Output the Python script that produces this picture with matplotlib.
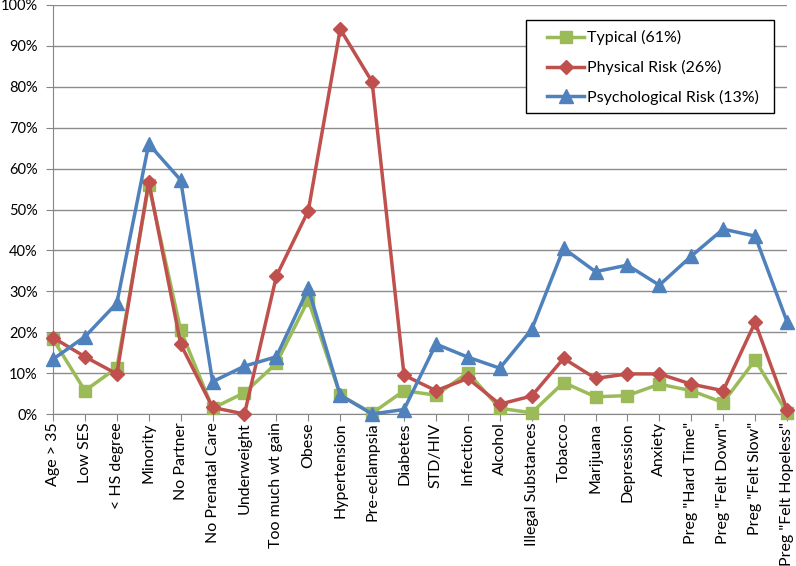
import matplotlib.pyplot as plt
from matplotlib.patches import Rectangle
from matplotlib.ticker import PercentFormatter

categories = ['Age > 35', 'Low SES', '< HS degree', 'Minority', 'No Partner',
              'No Prenatal Care', 'Underweight', 'Too much wt gain', 'Obese',
              'Hypertension', 'Pre-eclampsia', 'Diabetes', 'STD/HIV', 'Infection',
              'Alcohol', 'Illegal Substances', 'Tobacco', 'Marijuana', 'Depression',
              'Anxiety', 'Preg "Hard Time"', 'Preg "Felt Down"', 'Preg "Felt Slow"',
              'Preg "Felt Hopeless"']

# values in percent
typical = [18.3, 5.7, 11.3, 56.0, 20.5, 1.4, 5.2, 12.4, 27.9, 4.6, 0.2, 5.7,
           4.6, 10.1, 1.4, 0.3, 7.7, 4.2, 4.5, 7.3, 5.7, 2.8, 13.2, 0.3]
physical = [18.7, 14.0, 9.8, 56.8, 17.1, 1.6, 0.0, 33.7, 49.7, 94.1, 81.2, 9.5,
            5.7, 8.7, 2.4, 4.4, 13.6, 8.7, 9.8, 9.8, 7.3, 5.7, 22.4, 1.1]
psych = [13.4, 18.9, 27.1, 66.0, 57.2, 7.9, 11.7, 14.0, 30.7, 4.6, 0.0, 1.1,
         17.1, 13.9, 11.2, 20.7, 40.5, 34.8, 36.4, 31.5, 38.6, 45.2, 43.5, 22.6]

plt.rcParams['font.family'] = ['Lato', 'DejaVu Sans']

fig = plt.figure(figsize=(7.96, 5.66), dpi=100)
ax = fig.add_axes([53/796, 1 - 414/566, (787 - 53)/796, (414 - 5)/566])

x = range(len(categories))
ax.plot(x, typical, color='#9BBB59', lw=2.5, marker='s', ms=9,
        label='Typical (61%)', zorder=3, clip_on=False)
ax.plot(x, physical, color='#C0504D', lw=2.5, marker='D', ms=7,
        label='Physical Risk (26%)', zorder=4, clip_on=False)
ax.plot(x, psych, color='#4F81BD', lw=2.5, marker='^', ms=10,
        label='Psychological Risk (13%)', zorder=5, clip_on=False)

ax.set_xlim(0, len(categories) - 1)
ax.set_ylim(0, 100)
ax.set_yticks(range(0, 101, 10))
ax.yaxis.set_major_formatter(PercentFormatter(decimals=0))
ax.set_xticks(list(x))
ax.set_xticklabels(categories, rotation=90, va='top', ha='center')
ax.tick_params(axis='both', colors='#868686', labelcolor='black',
               length=5, direction='out')
ax.tick_params(axis='y', labelsize=10.5, pad=6)
ax.tick_params(axis='x', labelsize=11.5, pad=1)
ax.grid(axis='y', color='#8C8C8C', lw=1)
ax.set_axisbelow(True)
for s in ['top', 'right']:
    ax.spines[s].set_visible(False)
for s in ['left', 'bottom']:
    ax.spines[s].set_color('#868686')

# legend box drawn separately so its padding can match the reference
fig.add_artist(Rectangle((526/796, 1 - 113/566), 248/796, 93/566,
                         transform=fig.transFigure, facecolor='white',
                         edgecolor='black', lw=1, zorder=4))
leg = fig.legend(loc='upper left', bbox_to_anchor=(537/796, 1 - 20/566),
                 fontsize=11.5, handlelength=2.3, labelspacing=0.92,
                 frameon=False, borderpad=0.65, handletextpad=0.2,
                 borderaxespad=0)
leg.set_zorder(5)

fig.savefig('out.png', dpi=100)
